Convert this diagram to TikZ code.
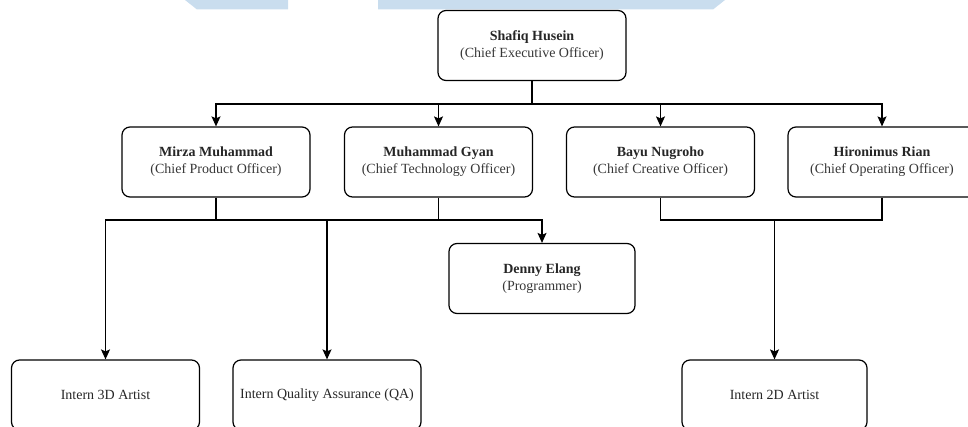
\documentclass[tikz,border=0pt]{standalone}
\usepackage{fontspec}
\setmainfont{Liberation Serif}
\usetikzlibrary{arrows.meta}

\definecolor{wmblue}{RGB}{201,221,238}
\definecolor{rolegray}{RGB}{55,55,55}

\newcommand{\person}[2]{\textbf{#1}\\{\color{rolegray}#2}}

\begin{document}
\begin{tikzpicture}[x=1pt, y=-1pt,
        box/.style={draw, rounded corners=8pt, line width=1.2pt, minimum width=188pt,
            minimum height=70pt, align=center, inner sep=0pt,
            font=\fontsize{14}{17}\selectfont, text=black!85},
        conn/.style={line width=1.2pt},
        arr/.style={conn, -{Stealth[length=10pt, width=9pt, inset=2pt]}}]
        \useasboundingbox (0,0) rectangle (968,427);
        % watermark strip at the top
        \fill[wmblue] (185,0) -- (288,0) -- (288,9.5) -- (197,9.5) -- cycle;
        \fill[wmblue] (378,0) -- (725,0) -- (713,9.5) -- (378,9.5) -- cycle;

        \node[box] (ceo) at (532, 45.5) {\person{Shafiq Husein}{(Chief Executive Officer)}};
        \node[box] (cpo) at (216, 162) {\person{Mirza Muhammad}{(Chief Product Officer)}};
        \node[box] (cto) at (438.5, 162) {\person{Muhammad Gyan}{(Chief Technology Officer)}};
        \node[box] (cco) at (660.5, 162) {\person{Bayu Nugroho}{(Chief Creative Officer)}};
        \node[box] (coo) at (882, 162) {\person{Hironimus Rian}{(Chief Operating Officer)}};
        \node[box, minimum width=186pt] (prog) at (542, 278.5) {\person{Denny Elang}{(Programmer)}};
        \node[box] (art3d) at (105.5, 395) {Intern 3D Artist};
        \node[box] (qa) at (327, 395) {Intern Quality Assurance (QA)};
        \node[box, minimum width=185pt] (art2d) at (774.5, 395) {Intern 2D Artist};

        \coordinate (top) at (532, 104);
        \coordinate (left) at (216, 220);
        \coordinate (mid) at (438.5, 220);
        \coordinate (right) at (774.5, 220);

        \draw[conn] (ceo) -- (top);
        \draw[arr] (top) -| (cpo);
        \draw[arr] (top) -| (cto);
        \draw[arr] (top) -| (cco);
        \draw[arr] (top) -| (coo);

        \draw[conn] (cpo) -- (left);
        \draw[conn] (cto) -- (mid);
        \draw[arr] (mid) -| (art3d);
        \draw[arr] (mid) -| (qa);
        \draw[arr] (mid) -| (prog);

        \draw[conn] (cco) |- (right);
        \draw[conn] (coo) |- (right);
        \draw[arr] (right) -- (art2d);
\end{tikzpicture}
\end{document}
